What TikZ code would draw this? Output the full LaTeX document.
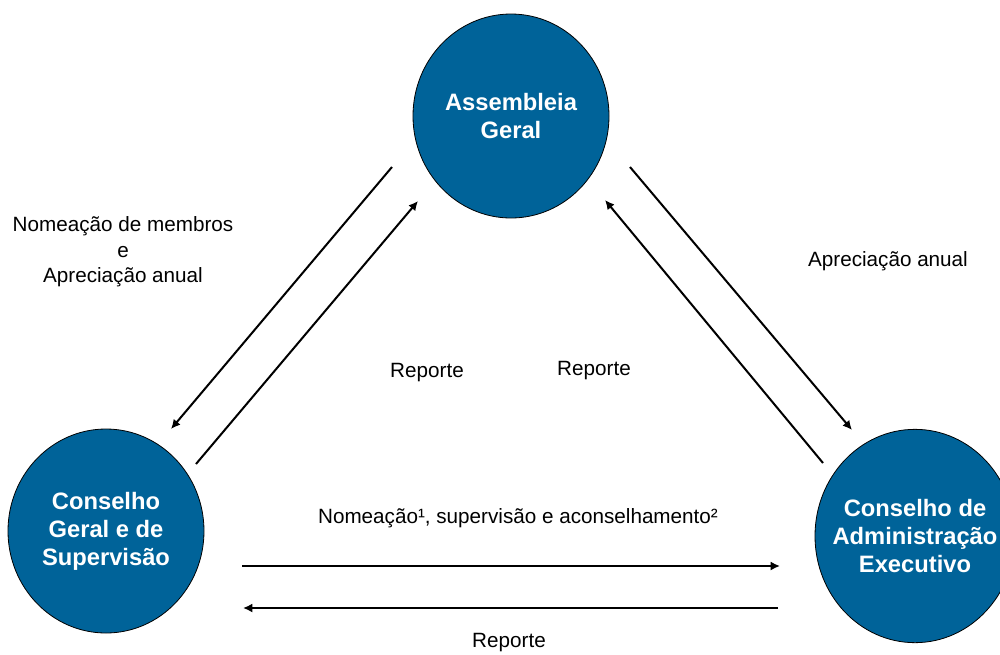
\documentclass[tikz,border=0pt]{standalone}
\usepackage{fontspec}
\setmainfont{Liberation Sans}
\usetikzlibrary{arrows.meta,shapes.geometric}
\definecolor{orgblue}{RGB}{0,99,153}

\begin{document}
\begin{tikzpicture}[x=0.75pt,y=-0.75pt]
      \tikzset { organ/.style = { shape=ellipse,draw=black,line width=0.6pt,fill=orgblue,text=white,minimum width=147pt,minimum height=153pt,inner sep=-14pt,align=center,font=\fontsize{17.8}{21}\selectfont\bfseries } }
      \tikzset { edge/.style = { -{Latex[length=7pt,width=6.8pt]},line width=1.5pt } }
      \tikzset { note/.style = { align=center,font=\fontsize{15.5}{19}\selectfont } }

      \useasboundingbox (0,0) rectangle (1000,654);

      \node[organ] (ag) at (511,116) {Assembleia\\Geral};
      \node[organ] (cgs) at (106,531) {Conselho\\Geral e de\\Supervisão};
      \node[organ,minimum width=150pt,minimum height=160pt] (cae) at (915,536) {Conselho de\\Administração\\Executivo};

      \coordinate (a1) at (392,167);
      \coordinate (c1) at (171,429);
      \coordinate (c2) at (196,464);
      \coordinate (a2) at (418,201);
      \coordinate (a3) at (630,167);
      \coordinate (e3) at (852,430);
      \coordinate (e4) at (823,463);
      \coordinate (a4) at (605,200);
      \coordinate (c5) at (242,566);
      \coordinate (e5) at (780,566);
      \coordinate (e6) at (778,608);
      \coordinate (c6) at (243,608);

      \draw[edge] (a1) to (c1);
      \draw[edge] (c2) to (a2);
      \draw[edge] (a3) to (e3);
      \draw[edge] (e4) to (a4);
      \draw[edge] (c5) to (e5);
      \draw[edge] (e6) to (c6);

      \node[note] (nm) at (123,252) {Nomeação de membros\\e\\Apreciação anual};
      \node[note] (r1) at (427,373) {Reporte};
      \node[note] (r2) at (594,371) {Reporte};
      \node[note] (aa) at (888,261) {Apreciação anual};
      \node[note] (ns) at (518,518) {Nomeação¹, supervisão e aconselhamento²};
      \node[note] (r3) at (509,643) {Reporte};

    \end{tikzpicture}
\end{document}
